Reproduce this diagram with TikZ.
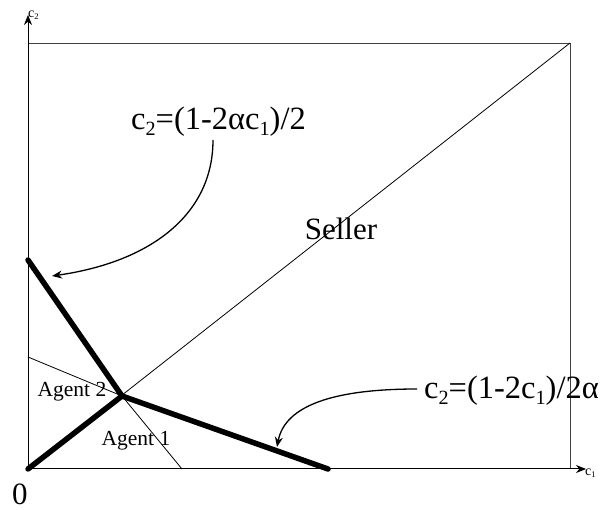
\documentclass[tikz,border=0pt]{standalone}
\usepackage{fontspec}
\setmainfont{Liberation Serif}
\usetikzlibrary{arrows.meta}
\newcommand{\lowidx}[1]{\raisebox{-0.35ex}{\scalebox{0.62}{#1}}}
\begin{document}
\begin{tikzpicture}[x=1pt,y=-1pt,
  boxline/.style={draw=black!75, line width=0.9pt},
  axisline/.style={draw=black, line width=1pt, -{Stealth[length=10pt,width=8pt]}},
  thinline/.style={draw=black, line width=0.8pt},
  boldline/.style={draw=black, line width=5.5pt, line cap=round},
  callout/.style={draw=black, line width=1.3pt, -{Stealth[length=10pt,width=8pt]}},
  bigtxt/.style={font=\fontsize{31}{34}\selectfont, inner sep=0pt},
  formtxt/.style={font=\fontsize{32.5}{36}\selectfont, inner sep=0pt},
  midtxt/.style={font=\fontsize{21.5}{24}\selectfont, inner sep=0pt},
  smalltxt/.style={font=\fontsize{14}{16}\selectfont, inner sep=0pt}]
\useasboundingbox (0,0) rectangle (608,510);
\coordinate (O) at (28,469);
\coordinate (TL) at (28,43);
\coordinate (TR) at (570,43);
\coordinate (BR) at (570,469);
\coordinate (Y) at (28,15);
\coordinate (X) at (586,469);
\coordinate (P) at (122,396);
\coordinate (A) at (28,260);
\coordinate (B) at (328,469);
\coordinate (A2) at (28,357);
\coordinate (A1) at (182,469);
\draw[boxline] (TL) -- (TR) -- (BR);
\draw[axisline] (O) -- (Y);
\draw[axisline] (O) -- (X);
\draw[thinline] (O) -- (TR);
\draw[thinline] (A2) -- (P);
\draw[thinline] (P) -- (A1);
\draw[boldline] (A) -- (P);
\draw[boldline] (P) -- (B);
\draw[boldline] (O) -- (P);
\node[smalltxt, anchor=west] (ylab) at (28,15) {c\lowidx{2}};
\node[smalltxt, anchor=west] (xlab) at (585,473) {c\lowidx{1}};
\node[bigtxt] (zero) at (20,494) {0};
\node[bigtxt] (seller) at (341,229) {Seller};
\node[midtxt] (ag2) at (72,392) {Agent 2};
\node[midtxt] (ag1) at (136,441) {Agent 1};
\node[formtxt, anchor=west] (f1) at (131,122) {c\lowidx{2}=(1-2αc\lowidx{1})/2};
\node[formtxt, anchor=west] (f2) at (424,391) {c\lowidx{2}=(1-2c\lowidx{1})/2α};
\coordinate (s1) at (213,140);
\coordinate (e1) at (52,276);
\coordinate (s2) at (417,389);
\coordinate (e2) at (277,447);
\draw[callout] (s1) .. controls (213,215) and (150,262) .. (e1);
\draw[callout] (s2) .. controls (335,389) and (285,405) .. (e2);
\end{tikzpicture}
\end{document}
